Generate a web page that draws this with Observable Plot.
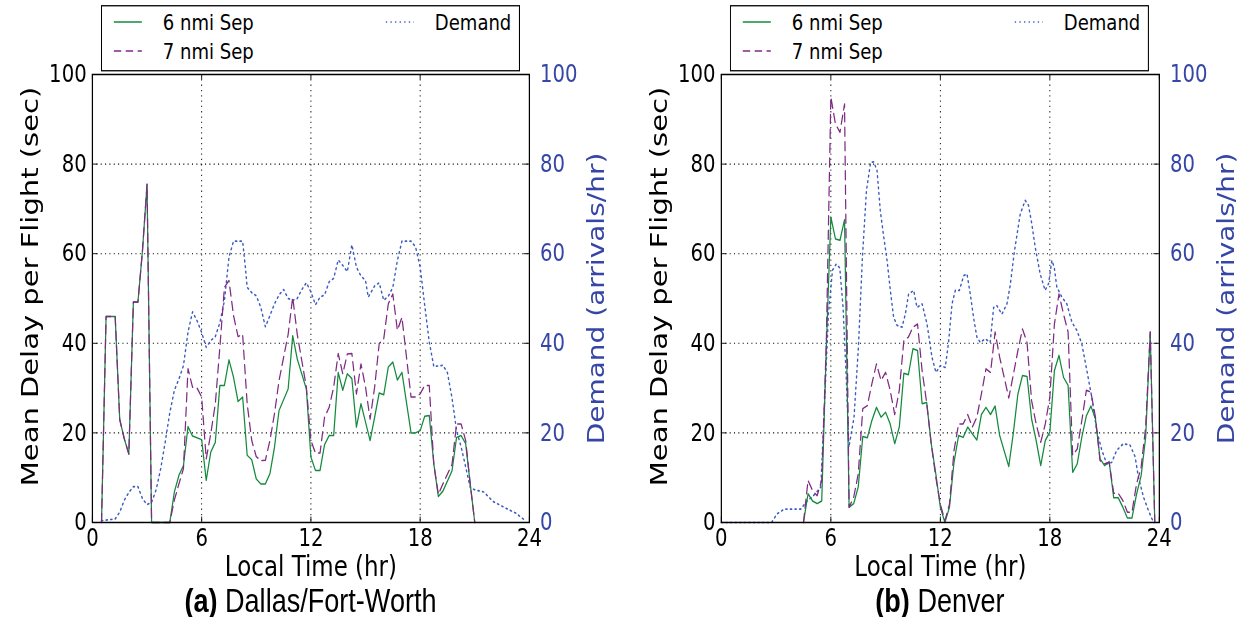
<!DOCTYPE html>
<html><head><meta charset="utf-8">
<script src="https://cdn.jsdelivr.net/npm/d3@7"></script>
<script src="https://cdn.jsdelivr.net/npm/@observablehq/plot@0.6"></script>
<style>
html,body{margin:0;padding:0;background:#fff;overflow:hidden;}
#fig{position:absolute;left:0;top:0;height:617px;transform-origin:0 0;}
.panel{position:absolute;top:0;height:617px;}
.caption{position:absolute;top:586px;height:30px;text-align:center;font-family:"Liberation Sans",Arial,sans-serif;font-size:33px;line-height:30px;color:#000;white-space:nowrap;}
</style></head>
<body><div id="fig"></div>
<script>
// ---------------- data ----------------
const xTicks = [0, 6, 12, 18, 24];
const yTicks = [0, 20, 40, 60, 80, 100];
const seriesNames = ["6 nmi Sep", "7 nmi Sep", "Demand"];

// Dallas/Fort-Worth
const dfwSep6T = [0.5,0.75,1.25,1.5,1.75,2.0,2.25,2.5,2.75,3.0,3.25,4.25,4.5,4.75,5.0,5.25,5.5,6.0,6.25,6.5,6.75,7.0,7.25,7.5,7.75,8.0,8.25,8.5,8.75,9.0,9.25,9.5,9.75,10.0,10.25,10.75,11.0,11.25,11.75,12.0,12.25,12.5,12.75,13.0,13.25,13.5,13.75,14.0,14.25,14.5,14.75,15.0,15.25,15.5,15.75,16.0,16.25,16.5,16.75,17.0,17.5,17.75,18.0,18.25,18.5,18.75,19.0,19.25,19.75,20.0,20.25,20.5,20.75,21.0];
const dfwSep6 = [0,46,46,23,18.7,15.3,49.2,49.2,60.7,75.5,0,0,6.8,10.5,12.7,21.4,19.3,18.5,9.4,15.7,17.9,30.6,30.6,36.3,32.4,27,28,15,14,9.7,8.6,8.6,10.9,16.8,25,29.8,41.7,36.5,29.8,14.6,11.6,11.6,17.4,19.4,19.4,33.5,29.5,33.2,32.1,21.3,26.5,22.4,18.3,23.5,28.9,28.5,34.7,35.8,31.8,33.5,20,20,20.5,23.7,23.9,13.1,5.8,7,11.5,19,19.4,17.6,8.6,0];
const dfwSep7T = [0.5,0.75,1.25,1.5,1.75,2.0,2.25,2.5,2.75,3.0,3.25,4.25,4.5,4.75,5.0,5.25,5.5,5.75,6.0,6.25,6.5,6.75,7.0,7.25,7.5,7.75,8.0,8.25,8.5,8.75,9.0,9.25,9.5,9.75,10.0,10.25,10.75,11.0,11.25,11.75,12.0,12.25,12.5,12.75,13.0,13.25,13.5,13.75,14.0,14.25,14.5,14.75,15.0,15.25,15.5,15.75,16.0,16.25,16.5,16.75,17.0,17.5,17.75,18.0,18.25,18.5,18.75,19.0,19.25,19.75,20.0,20.25,20.5,20.75,21.0];
const dfwSep7 = [0,46,46,23,18.7,15.3,49.2,49.2,60.7,75.5,0,0,5,8.6,12,34.3,30.2,30,28,14.2,19.8,26.5,39.1,52.5,54,46.2,41.5,42,26.5,18.3,14.7,13.8,13.9,18.3,24.3,31.7,42,50.3,42,30.2,18.3,15.5,15.5,23.5,25.7,30.2,37.7,33.2,37.6,37.7,28.7,35.4,30.2,23.1,30.2,39.9,41,48.8,51,42.9,45.8,28,28,28.7,30.6,30.6,13,6.3,8.6,13,22,22,18.3,8.6,0];
const dfwDemandT = [0.5,1.25,1.5,1.75,2.0,2.25,2.5,2.75,3.0,3.25,3.5,3.75,4.0,4.25,4.5,4.75,5.0,5.25,5.5,5.75,6.0,6.25,6.5,6.75,7.0,7.25,7.5,7.75,8.0,8.25,8.4,8.5,8.75,9.0,9.25,9.5,9.75,10.0,10.25,10.5,10.75,11.0,11.25,11.5,11.75,12.0,12.25,12.5,12.75,13.0,13.25,13.5,13.75,14.0,14.25,14.5,14.75,15.0,15.15,15.5,15.75,16.0,16.25,16.5,16.75,17.0,17.5,17.75,18.0,18.25,18.5,18.75,19.25,19.5,19.75,20.0,20.25,20.5,20.75,21.0,21.5,22.0,22.75,23.25,23.75];
const dfwDemand = [0.4,0.8,2.3,5,6.7,8,8,5.3,4,4.5,7.3,12,18,24.5,29.5,32,35,42.5,47,45,42.4,39.1,40.6,41.5,44.6,49.5,59.2,62.8,62.8,62.8,57,52.5,51.3,50.6,48,43.7,46.2,48.8,50.8,52,50,49.6,50,52,53.5,51.5,48.6,50.3,50.8,53.7,54.5,58.6,57.4,56,62,57,55,54,50.3,52.8,53.5,49.6,50.5,52.5,58.5,62.8,62.8,61.5,57,48.5,40.3,34.8,35.1,33.4,27.8,20.5,16.9,12.4,7.8,7.3,6.8,4.7,3.1,2.1,0.5];

// Denver
const denSepT = [4.5,4.75,5.0,5.25,5.5,5.75,6.0,6.25,6.5,6.75,7.0,7.25,7.5,7.75,8.0,8.25,8.5,8.75,9.0,9.25,9.5,9.75,10.0,10.25,10.5,10.75,11.0,11.25,11.5,11.75,12.0,12.25,12.5,12.75,13.0,13.25,13.5,13.75,14.0,14.25,14.5,14.75,15.0,15.25,15.75,16.0,16.25,16.5,16.75,17.0,17.25,17.5,17.75,18.0,18.25,18.5,18.75,19.0,19.25,19.5,19.75,20.0,20.25,20.5,20.75,21.0,21.25,21.5,21.75,22.0,22.25,22.5,22.75,23.0,23.25,23.5,23.75];
const denSep6 = [0,6.4,4.8,4.2,4.8,39,68.2,63.3,63,67.6,3.4,4.2,7.9,19.2,18.9,22.8,25.7,23.5,24.6,22,17.6,21.3,33.3,33,38.8,38.4,26.5,26.8,17.6,10.9,3.4,0,3.4,13.5,19.4,19,21.3,19.8,18.4,24.1,25.7,24.1,26,19.4,12.5,20,28.7,32.8,32.6,23.1,18.3,12.7,18.3,20.2,33.9,37.3,32.4,30.6,11.2,13.1,19,23.8,26,23.1,14.2,12.7,13.6,5.5,5.5,3.4,1,1,6.3,10.4,19,42.5,0];
const denSep7 = [0,9.4,7.1,6,9.4,40,95,89,87.1,93.4,3.4,5.6,10.8,25.4,26.1,31,35.4,31.7,33.5,29.5,24.1,29.5,40.6,41.4,43.6,44.3,33.9,26.8,17.6,10.1,4.1,0.4,4.1,16.1,22,22,24.1,21.3,23.5,28.7,34.3,33.5,42.5,36.9,27.8,33,38.4,43.2,40.2,27.2,22,17.9,22,28,44.3,51,46.5,42.5,15,16.4,22.7,29.5,29.1,23.5,13.8,13.1,13.4,6.5,6.5,4.9,2.3,2.3,8.6,12.3,21.3,42.5,0];
const denDemandT = [0,2.75,3.05,3.45,4.35,4.7,5.05,5.45,5.63,5.87,6.09,6.3,6.49,6.67,6.85,6.99,7.27,7.51,7.73,7.95,8.18,8.35,8.53,8.71,8.9,9.08,9.26,9.44,9.63,9.9,10.08,10.26,10.54,10.72,11.0,11.27,11.54,11.76,12.0,12.27,12.45,12.64,12.82,13.04,13.28,13.46,13.64,13.82,14.0,14.19,14.46,14.73,14.92,15.1,15.37,15.65,15.83,16.05,16.38,16.65,16.83,17.01,17.2,17.47,17.74,17.93,18.11,18.24,18.38,18.66,18.93,19.21,19.48,19.75,20.03,20.3,20.57,20.85,21.12,21.39,21.66,22.03,22.39,22.67,22.85,23.13,23.4,23.64];
const denDemand = [0,0,1.9,3,3,4.8,6,7.9,24.3,46.6,56.3,57.7,56.8,48,31.7,16.8,23.5,39.1,59.2,74.1,80.4,80.5,78.6,69.6,63.7,58.5,51.8,45.8,44,43.6,46.5,51,51.8,48,48.8,44.3,36.9,33.5,35,34.6,40.2,48.8,51.8,51.8,55.1,55.5,51,45.8,41.4,40.2,41,40.2,48,48.4,46.5,48.8,53,60.3,68.9,71.9,70.8,66.7,61.4,55.5,51.8,53.3,58.5,57,52.6,50.3,48.8,44.7,42.9,39.9,33.9,27.9,20.5,16.1,13.1,13.4,16.1,17.6,17.3,14.7,10.2,5.7,2.7,0.4];

// ---------------- styling / layout ----------------
const GREEN = "#138a3c", PURPLE = "#7f2a83", BLUE = "#3d5cc2", AXBLUE = "#3646a6";
const S = 0.82;                 // horizontal squeeze of the whole figure
const vx = px => px / S;
const FIGW = 1241 / S;
const fig = document.getElementById("fig");
fig.style.width = FIGW + "px";
fig.style.transform = `scaleX(${S})`;

const zip = (t, v) => t.map((d, i) => ({t: d, v: v[i]}));

const panels = [
  {plotL: 92, plotR: 529, tag: "(a)", name: "Dallas/Fort-Worth",
   s6: zip(dfwSep6T, dfwSep6), s7: zip(dfwSep7T, dfwSep7), dem: zip(dfwDemandT, dfwDemand)},
  {plotL: 721, plotR: 1159, tag: "(b)", name: "Denver",
   s6: zip(denSepT, denSep6), s7: zip(denSepT, denSep7), dem: zip(denDemandT, denDemand)}
];

const PW = vx(620), ML = vx(92);
const TOP = 74, BOTTOM = 522, H = 617;
const DOT = "1.6,4", DASH = "9,5.5";

for (const p of panels) {
  const left = vx(p.plotL - 92);
  const plotW = vx(p.plotR - p.plotL);
  const MR = PW - ML - plotW;
  const div = document.createElement("div");
  div.className = "panel";
  div.style.left = left + "px";
  div.style.width = PW + "px";
  fig.appendChild(div);

  const xTickLen = 0.3, yTickLen = 1.2;
  const chart = Plot.plot({
    width: PW, height: H,
    marginTop: TOP, marginBottom: H - BOTTOM, marginLeft: ML, marginRight: MR,
    style: {fontFamily: "DejaVu Sans", fontSize: "24px", background: "transparent", overflow: "visible", color: "#000"},
    x: {domain: [0, 24]},
    y: {domain: [0, 100]},
    marks: [
      Plot.gridX(xTicks.slice(1, -1), {stroke: "#000", strokeOpacity: 1, strokeWidth: 1.1, strokeDasharray: "1.3,4"}),
      Plot.gridY(yTicks.slice(1, -1), {stroke: "#000", strokeOpacity: 1, strokeWidth: 1.1, strokeDasharray: "1.3,4"}),
      Plot.line(p.dem, {x: "t", y: "v", stroke: BLUE, strokeWidth: 1.7, strokeDasharray: DOT}),
      Plot.line(p.s6, {x: "t", y: "v", stroke: GREEN, strokeWidth: 1.5}),
      Plot.line(p.s7, {x: "t", y: "v", stroke: PURPLE, strokeWidth: 1.5, strokeDasharray: DASH}),
      Plot.ruleX(xTicks, {y1: 0, y2: yTickLen, stroke: "#000", strokeWidth: 1}),
      Plot.ruleX(xTicks, {y1: 100 - yTickLen, y2: 100, stroke: "#000", strokeWidth: 1}),
      Plot.ruleY(yTicks, {x1: 0, x2: xTickLen, stroke: "#000", strokeWidth: 1}),
      Plot.ruleY(yTicks, {x1: 24 - xTickLen, x2: 24, stroke: "#000", strokeWidth: 1}),
      Plot.axisX(xTicks, {tickSize: 0, tickPadding: 6, label: null, fontSize: 24}),
      Plot.axisY(yTicks, {tickSize: 0, tickPadding: 7, label: null, fontSize: 24}),
      Plot.axisY(yTicks, {anchor: "right", tickSize: 0, tickPadding: 13, label: null, fontSize: 24, fill: AXBLUE}),
      Plot.frame({stroke: "#000", strokeWidth: 1.5}),
      Plot.text(["Mean Delay per Flight (sec)"], {text: d => d, frameAnchor: "left", dx: vx(30 - 92), dy: -12, rotate: -90, fontSize: 29, textAnchor: "middle", lineAnchor: "middle"}),
      Plot.text(["Demand (arrivals/hr)"], {text: d => d, frameAnchor: "right", dx: vx(596 - 529), rotate: -90, fontSize: 28, textAnchor: "middle", lineAnchor: "middle", fill: AXBLUE}),
      Plot.text(["Local Time (hr)"], {text: d => d, frameAnchor: "bottom", dy: 45, fontSize: 28, textAnchor: "middle", lineAnchor: "middle"})
    ]
  });
  chart.style.position = "absolute";
  chart.style.left = "0px";
  chart.style.top = "0px";
  div.appendChild(chart);

  // legend box (above the axes)
  const lgL = ML + vx(101 - 92), lgW = vx(418), lgT = 5, lgH = 65;
  const lg = d3.select(div).append("svg")
    .style("position", "absolute").style("left", lgL + "px").style("top", lgT + "px")
    .attr("width", lgW + 2).attr("height", lgH + 2)
    .style("font-family", "DejaVu Sans").style("font-size", "22px");
  lg.append("rect").attr("x", 0.75).attr("y", 0.75).attr("width", lgW).attr("height", lgH)
    .attr("fill", "#fff").attr("stroke", "#000").attr("stroke-width", 1.3);
  const items = [
    {name: seriesNames[0], x: vx(13), y: 17, color: GREEN, dash: null},
    {name: seriesNames[1], x: vx(13), y: 46, color: PURPLE, dash: DASH},
    {name: seriesNames[2], x: vx(285), y: 17, color: BLUE, dash: DOT}
  ];
  for (const it of items) {
    lg.append("line").attr("x1", it.x).attr("x2", it.x + vx(28)).attr("y1", it.y).attr("y2", it.y)
      .attr("stroke", it.color).attr("stroke-width", 1.5).attr("stroke-dasharray", it.dash);
    lg.append("text").attr("x", it.x + vx(49)).attr("y", it.y).attr("dy", "0.36em").text(it.name);
  }

  // caption
  const cap = document.createElement("div");
  cap.className = "caption";
  cap.style.left = ML + "px";
  cap.style.width = plotW + "px";
  cap.innerHTML = `<b>${p.tag}</b> ${p.name}`;
  div.appendChild(cap);
}
</script>
</body></html>
